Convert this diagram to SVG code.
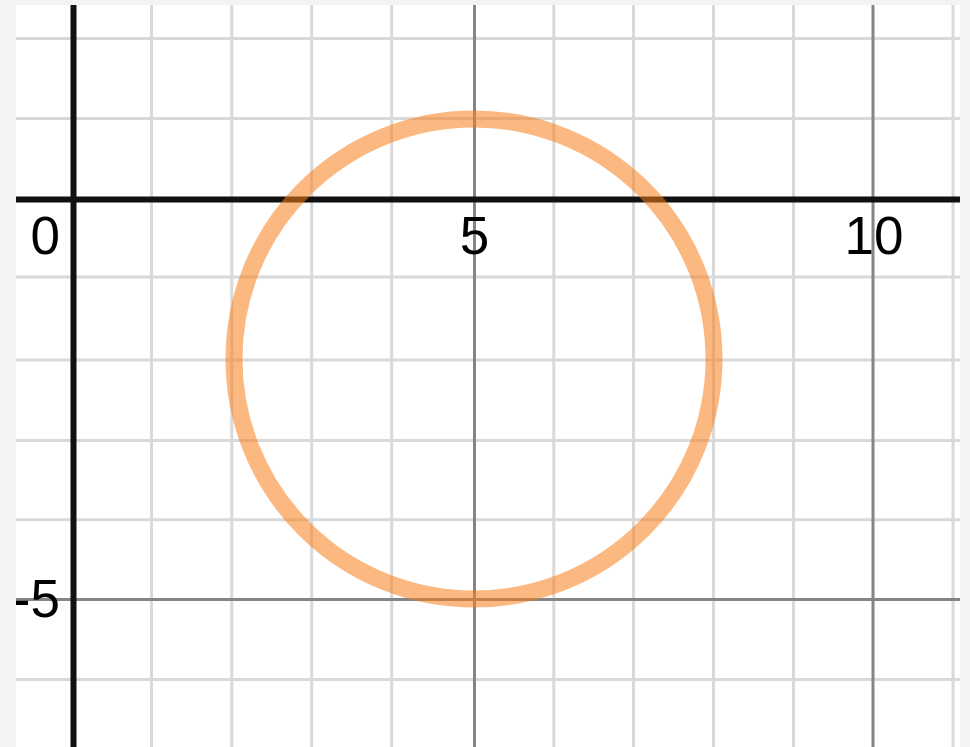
<svg xmlns="http://www.w3.org/2000/svg" width="970" height="747" viewBox="0 0 970 747">
<style>
.minor{stroke:#d9d9d9;stroke-width:3;fill:none}
.major{stroke:#858585;stroke-width:3;fill:none}
.axis{stroke:#111111;stroke-width:6;fill:none}
.lbl{font-family:"Liberation Sans",Arial,sans-serif;font-size:53px;fill:#000}
</style>
<defs>
<clipPath id="plot"><rect x="16" y="5" width="944" height="742"/></clipPath>
</defs>
<rect x="0" y="0" width="970" height="747" fill="#f3f3f3"/>
<rect x="16" y="5" width="944" height="742" fill="#ffffff"/>
<g clip-path="url(#plot)">
<g id="grid-minor" class="minor">
<line x1="151.5" y1="5" x2="151.5" y2="747"/>
<line x1="231.8" y1="5" x2="231.8" y2="747"/>
<line x1="311.7" y1="5" x2="311.7" y2="747"/>
<line x1="391.7" y1="5" x2="391.7" y2="747"/>
<line x1="553.8" y1="5" x2="553.8" y2="747"/>
<line x1="633.5" y1="5" x2="633.5" y2="747"/>
<line x1="713.5" y1="5" x2="713.5" y2="747"/>
<line x1="793.5" y1="5" x2="793.5" y2="747"/>
<line x1="953" y1="5" x2="953" y2="747"/>
<line x1="16" y1="38.5" x2="960" y2="38.5"/>
<line x1="16" y1="118.5" x2="960" y2="118.5"/>
<line x1="16" y1="277" x2="960" y2="277"/>
<line x1="16" y1="360" x2="960" y2="360"/>
<line x1="16" y1="440.5" x2="960" y2="440.5"/>
<line x1="16" y1="519.8" x2="960" y2="519.8"/>
<line x1="16" y1="679.5" x2="960" y2="679.5"/>
</g>
<g id="grid-major" class="major">
<line x1="474.5" y1="5" x2="474.5" y2="747"/>
<line x1="873" y1="5" x2="873" y2="747"/>
<line x1="16" y1="599.5" x2="960" y2="599.5"/>
</g>
<g id="axes" class="axis">
<line x1="73.5" y1="5" x2="73.5" y2="747"/>
<line x1="16" y1="199.5" x2="960" y2="199.5"/>
</g>
<g id="circle">
<circle cx="474" cy="359" r="240" fill="none" stroke="#fa7e19" stroke-opacity="0.55" stroke-width="17"/>
</g>
<g id="labels" class="lbl">
<text x="60" y="254" text-anchor="end">0</text>
<text x="474.5" y="254" text-anchor="middle">5</text>
<text x="874" y="254" text-anchor="middle">10</text>
<text x="60" y="617" text-anchor="end">-5</text>
</g>
</g>
</svg>
